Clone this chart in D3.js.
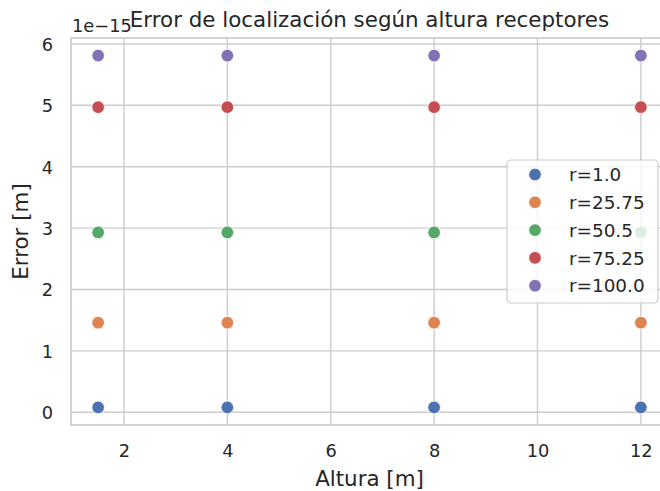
<!DOCTYPE html>
<html>
<head>
<meta charset="utf-8">
<script src="https://cdn.jsdelivr.net/npm/d3@7"></script>
<style>
  html, body { margin: 0; padding: 0; background: #ffffff; }
  svg text { font-family: "DejaVu Sans", sans-serif; fill: #262626; }
</style>
</head>
<body>
<svg id="chart" width="660" height="491"></svg>
<script>
// Receiver heights (m)
const alturas = [1.5, 4, 8, 12];
// Series: radius r and its localisation error (units of 1e-15 m)
const radios = ["r=1.0", "r=25.75", "r=50.5", "r=75.25", "r=100.0"];
const errores = [0.08, 1.46, 2.93, 4.97, 5.81];
const colores = ["#4C72B0", "#DD8452", "#55A868", "#C44E52", "#8172B3"];
const xTicks = [2, 4, 6, 8, 10, 12];
const yTicks = [0, 1, 2, 3, 4, 5, 6];

const svg = d3.select("#chart");
const plot = { left: 71, right: 668, top: 38, bottom: 425 };
const tickFont = "17.8px";
const labelFont = "21.4px";

// Matplotlib-style 5% data margins
function padded(min, max) {
  const m = (max - min) * 0.05;
  return [min - m, max + m];
}
const x = d3.scaleLinear()
  .domain(padded(d3.min(alturas), d3.max(alturas)))
  .range([plot.left, plot.right]);
const y = d3.scaleLinear()
  .domain(padded(d3.min(errores), d3.max(errores)))
  .range([plot.bottom, plot.top]);

const grid = "#cccccc";

// Grid lines
svg.append("g").selectAll("line").data(xTicks).join("line")
  .attr("x1", d => x(d)).attr("x2", d => x(d))
  .attr("y1", plot.top).attr("y2", plot.bottom)
  .attr("stroke", grid).attr("stroke-width", 1.4);
svg.append("g").selectAll("line").data(yTicks).join("line")
  .attr("x1", plot.left).attr("x2", plot.right)
  .attr("y1", d => y(d)).attr("y2", d => y(d))
  .attr("stroke", grid).attr("stroke-width", 1.4);

// Frame
svg.append("rect")
  .attr("x", plot.left).attr("y", plot.top)
  .attr("width", plot.right - plot.left).attr("height", plot.bottom - plot.top)
  .attr("fill", "none").attr("stroke", grid).attr("stroke-width", 1.7);

// Axes (tick marks hidden, labels only)
const xAxis = svg.append("g")
  .attr("transform", `translate(0,${plot.bottom})`)
  .call(d3.axisBottom(x).tickValues(xTicks).tickSize(0).tickPadding(0).tickFormat(d3.format("d")));
xAxis.select(".domain").remove();
xAxis.selectAll("text")
  .attr("dy", null).attr("y", 31.5)
  .style("font-size", tickFont);

const yAxis = svg.append("g")
  .attr("transform", `translate(${plot.left},0)`)
  .call(d3.axisLeft(y).tickValues(yTicks).tickSize(0).tickPadding(0).tickFormat(d3.format("d")));
yAxis.select(".domain").remove();
yAxis.selectAll("text")
  .attr("x", -18).attr("dy", "0.36em")
  .style("font-size", tickFont);

// Points
const pts = svg.append("g");
radios.forEach((r, i) => {
  pts.selectAll(null).data(alturas).join("circle")
    .attr("cx", d => x(d))
    .attr("cy", y(errores[i]))
    .attr("r", 6.3)
    .attr("fill", colores[i])
    .attr("stroke", "#ffffff").attr("stroke-width", 0.8);
});

// Scale offset text
svg.append("text")
  .attr("x", 72).attr("y", 32)
  .style("font-size", tickFont)
  .text("1e\u221215");

// Title and axis labels
svg.append("text")
  .attr("x", (plot.left + plot.right) / 2).attr("y", 27)
  .attr("text-anchor", "middle")
  .style("font-size", labelFont)
  .text("Error de localización según altura receptores");
svg.append("text")
  .attr("x", (plot.left + plot.right) / 2).attr("y", 486)
  .attr("text-anchor", "middle")
  .style("font-size", labelFont)
  .text("Altura [m]");
svg.append("text")
  .attr("transform", `translate(28,${(plot.top + plot.bottom) / 2}) rotate(-90)`)
  .attr("text-anchor", "middle")
  .style("font-size", labelFont)
  .text("Error [m]");

// Legend
const lg = svg.append("g").attr("transform", "translate(507,160)");
lg.append("rect")
  .attr("width", 151).attr("height", 143)
  .attr("rx", 4).attr("ry", 4)
  .attr("fill", "#ffffff").attr("fill-opacity", 0.8)
  .attr("stroke", grid).attr("stroke-width", 1.2);
const rows = lg.selectAll("g.row").data(radios).join("g")
  .attr("class", "row")
  .attr("transform", (d, i) => `translate(0,${14.5 + i * 27.8})`);
rows.append("circle")
  .attr("cx", 28).attr("cy", 0).attr("r", 6.3)
  .attr("fill", (d, i) => colores[i])
  .attr("stroke", "#ffffff").attr("stroke-width", 0.8);
rows.append("text")
  .attr("x", 62).attr("dy", "0.36em")
  .style("font-size", "18.4px")
  .text(d => d);
</script>
</body>
</html>
